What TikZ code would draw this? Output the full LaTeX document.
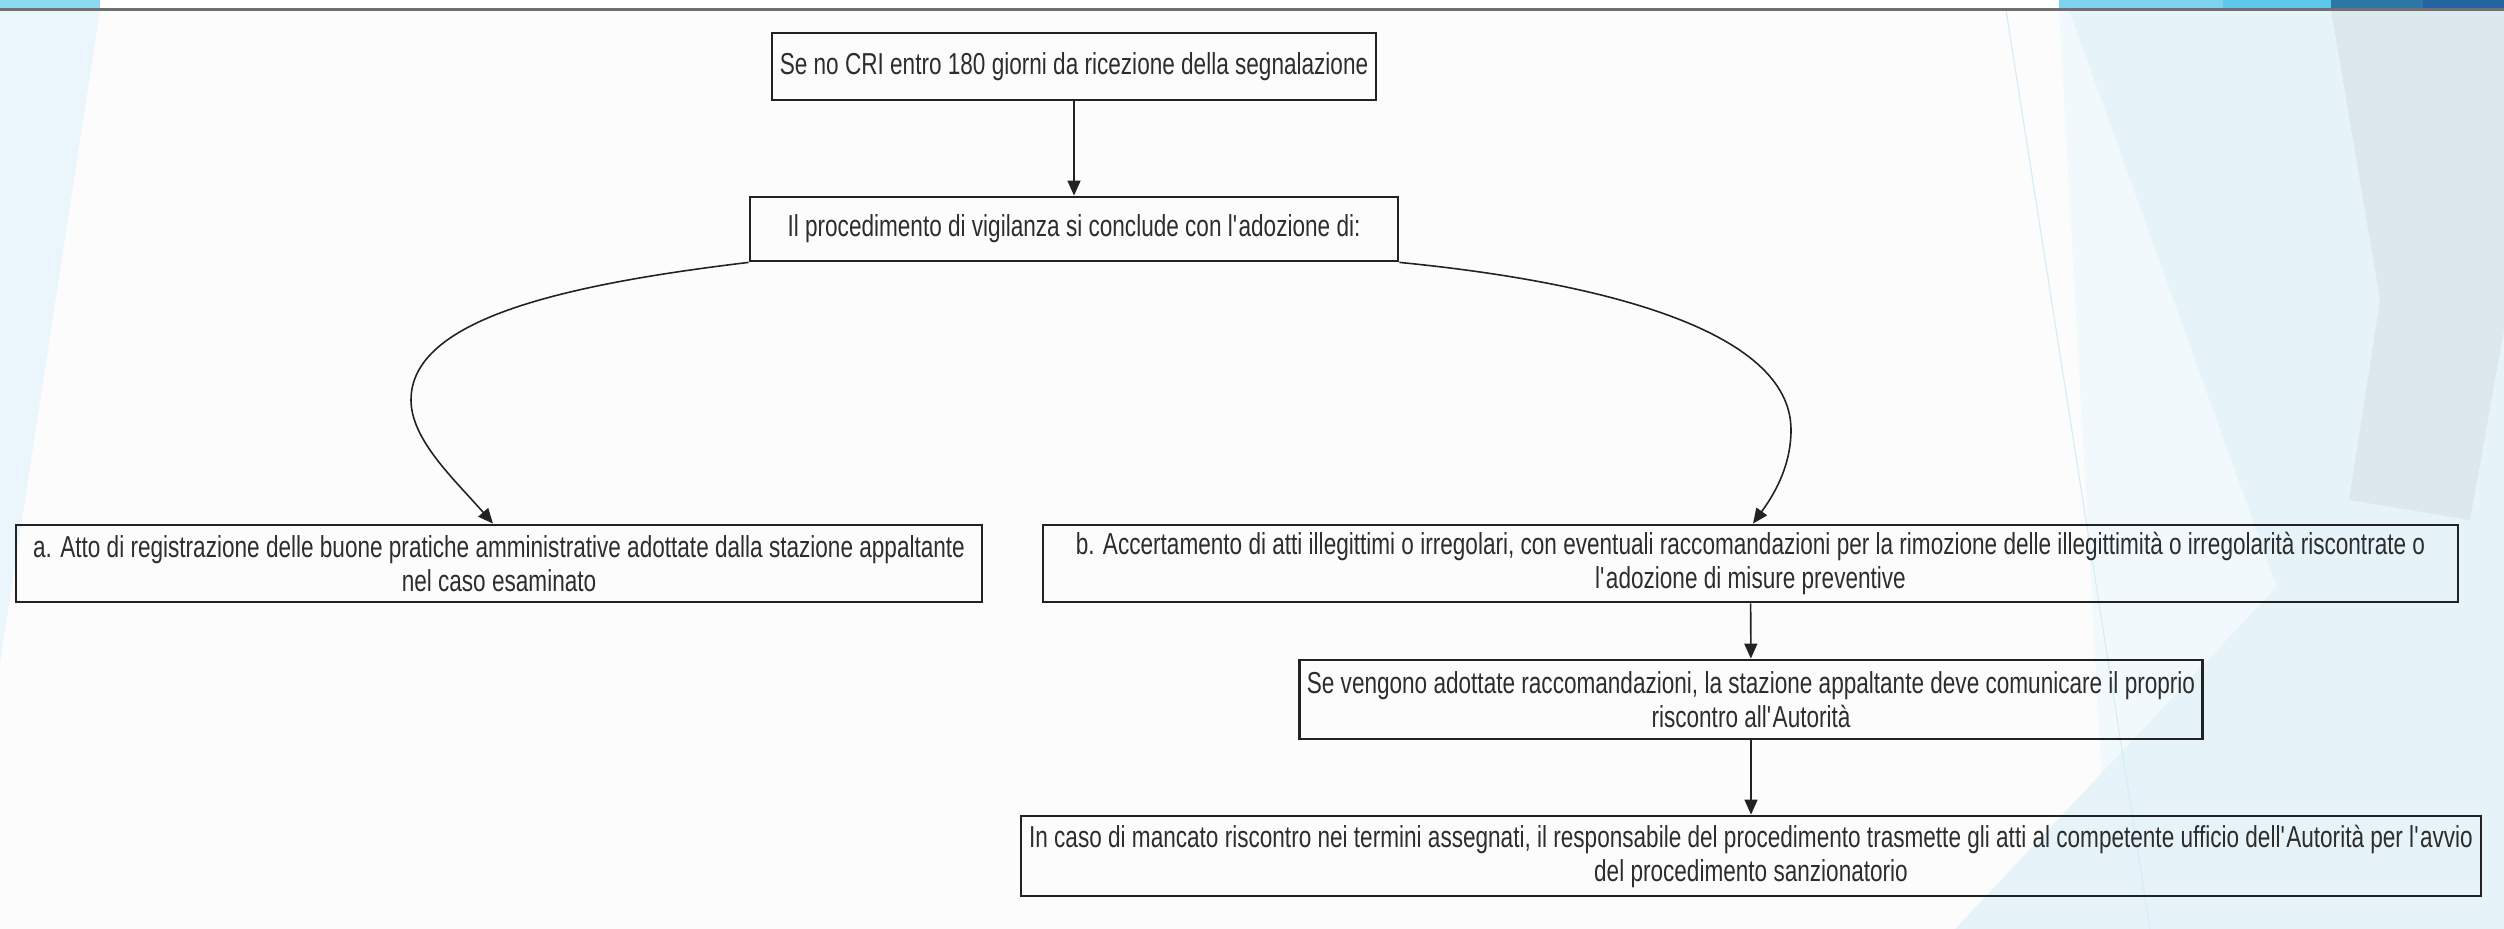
\documentclass[tikz,border=0pt]{standalone}
\usepackage{fontspec}
\setmainfont{Liberation Sans}[FakeStretch=0.745]
\usetikzlibrary{arrows.meta}

\definecolor{pagebg}{RGB}{252,252,252}
\definecolor{rule}{RGB}{112,112,112}
\definecolor{boxline}{RGB}{34,34,34}
\definecolor{textcol}{RGB}{45,45,45}
\definecolor{facetA}{RGB}{234,246,252}
\definecolor{facetB}{RGB}{242,249,253}
\definecolor{facetC}{RGB}{230,244,250}
\definecolor{facetD}{RGB}{221,231,238}
\definecolor{facetE}{RGB}{214,237,248}
\definecolor{barA}{RGB}{142,217,242}
\definecolor{barB}{RGB}{125,211,239}
\definecolor{barC}{RGB}{91,200,236}
\definecolor{barD}{RGB}{45,119,168}
\definecolor{barE}{RGB}{36,100,160}

\tikzset{
  flowbox/.style={draw=boxline, line width=0.8pt, inner sep=0pt, align=center,
    text=textcol, font=\fontsize{8.62}{9.67}\selectfont},
  conn/.style={draw=boxline, line width=0.45pt,
    -{Triangle[length=1.5mm,width=1.3mm]}}
}

\begin{document}
\begin{tikzpicture}[x=0.1mm,y=-0.1mm]
  % slide background
  \useasboundingbox (0,0) rectangle (2504,929);
  \fill[pagebg] (0,0) rectangle (2504,929);
  \fill[white] (0,0) rectangle (2504,9);

  % left facet
  \fill[facetA] (0,10) -- (100,10) -- (0,663) -- cycle;
  \fill[barA] (0,0) rectangle (100,9);

  % right facets
  \fill[facetB] (2059,10) -- (2504,10) -- (2504,929) -- (2110,929) -- cycle;
  \fill[facetC] (2069,10) -- (2504,10) -- (2504,929) -- (2400,929) -- cycle;
  \fill[facetC] (1955,929) -- (2504,345) -- (2504,929) -- cycle;
  \fill[facetD] (2331,10) -- (2504,10) -- (2504,330) -- (2470,520) -- (2349,500) -- (2380,300) -- cycle;
  \draw[facetE, line width=0.12mm] (2006,10) -- (2150,929);
  \fill[barB] (2059,0) rectangle (2223,9);
  \fill[barC] (2223,0) rectangle (2331,9);
  \fill[barD] (2331,0) rectangle (2423,9);
  \fill[barE] (2423,0) rectangle (2504,9);

  % title rule
  \draw[rule, line width=0.3mm] (0,10) -- (2504,10);

  % boxes
  \node[flowbox, minimum width=60.4mm, minimum height=6.7mm] (n1) at (1074,66.5)
    {Se no CRI entro 180 giorni da ricezione della segnalazione};
  \node[flowbox, minimum width=64.8mm, minimum height=6.4mm] (n2) at (1074,229)
    {Il procedimento di vigilanza si conclude con l\textquotesingle adozione di:};
  \node[flowbox, minimum width=96.6mm, minimum height=7.7mm] (na) at (499,563.5)
    {a. Atto di registrazione delle buone pratiche amministrative adottate dalla stazione appaltante\\nel caso esaminato};
  \node[flowbox, minimum width=141.5mm, minimum height=7.7mm] (nb) at (1750.5,563.5)
    {b. Accertamento di atti illegittimi o irregolari, con eventuali raccomandazioni per la rimozione delle illegittimità o irregolarità riscontrate o\\l\textquotesingle adozione di misure preventive};
  \node[flowbox, minimum width=90.3mm, minimum height=7.9mm] (nc) at (1751,699.5)
    {Se vengono adottate raccomandazioni, la stazione appaltante deve comunicare il proprio\\riscontro all\textquotesingle Autorità};
  \node[flowbox, minimum width=146mm, minimum height=8mm] (nd) at (1751,856)
    {In caso di mancato riscontro nei termini assegnati, il responsabile del procedimento trasmette gli atti al competente ufficio dell\textquotesingle Autorità per l\textquotesingle avvio\\del procedimento sanzionatorio};

  % connectors
  \coordinate (lturn) at (411,400);
  \coordinate (rturn) at (1791,430);
  \draw[conn] (n1) -- (n2);
  \draw[conn] (n2.south west) .. controls (560,285) and (411,320) .. (lturn)
    .. controls (411,440) and (455,480) .. ([xshift=-0.6mm]na.north);
  \draw[conn] (n2.south east) .. controls (1600,282) and (1791,330) .. (rturn)
    .. controls (1791,470) and (1770,500) .. ([xshift=0.25mm]nb.north);
  \draw[conn] (nb) -- (nc);
  \draw[conn] (nc) -- (nd);
\end{tikzpicture}
\end{document}
